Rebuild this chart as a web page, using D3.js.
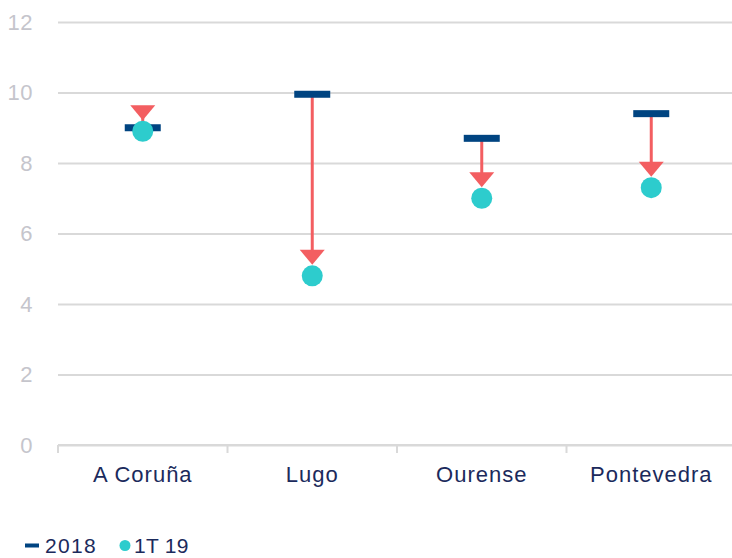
<!DOCTYPE html>
<html>
<head>
<meta charset="utf-8">
<script src="https://cdn.jsdelivr.net/npm/d3@7"></script>
<style>
  body { margin: 0; background: #fff; }
  svg text { font-family: "Liberation Sans", Arial, sans-serif; }
</style>
</head>
<body>
<div id="chart"></div>
<script>
// data
const provinces = ["A Coruña", "Lugo", "Ourense", "Pontevedra"];
const values2018 = [9.0, 9.95, 8.7, 9.4];
const values1T19 = [8.9, 4.8, 7.0, 7.3];
const yTicks = [0, 2, 4, 6, 8, 10, 12];
const legendLabels = ["2018", "1T 19"];

const width = 732, height = 558;
const navy = "#004481", aqua = "#2dcccd", coral = "#f35e61";

const svg = d3.select("#chart").append("svg")
  .attr("width", width)
  .attr("height", height);

const x = d3.scaleBand().domain(provinces).range([58, 736]);
const y = d3.scaleLinear().domain([0, 12]).range([445, 22]);

// gridlines + y labels
const yAxis = svg.append("g")
  .attr("transform", "translate(58,0)")
  .call(d3.axisLeft(y).tickValues(yTicks).tickSize(-(736 - 58)).tickPadding(25));
yAxis.select(".domain").remove();
yAxis.selectAll(".tick line").attr("stroke", "#d9d9d9").attr("stroke-width", 2);
yAxis.selectAll(".tick text")
  .attr("fill", "#c5c5cc")
  .style("font-size", "22px")
  .style("letter-spacing", "0.5px");

// x axis line with category tick marks
const xAxis = svg.append("g")
  .attr("transform", "translate(0,445)");
xAxis.append("line")
  .attr("x1", 58).attr("x2", 736)
  .attr("stroke", "#d9d9d9").attr("stroke-width", 2);
xAxis.selectAll(".sep")
  .data(provinces)
  .enter()
  .append("line")
  .attr("x1", d => x(d)).attr("x2", d => x(d))
  .attr("y1", 0).attr("y2", 8)
  .attr("stroke", "#d9d9d9").attr("stroke-width", 2);
xAxis.selectAll(".lbl")
  .data(provinces)
  .enter()
  .append("text")
  .attr("x", d => x(d) + x.bandwidth() / 2)
  .attr("y", 37)
  .attr("text-anchor", "middle")
  .attr("fill", "#1b2a5c")
  .style("font-size", "22px")
  .style("letter-spacing", "1px")
  .text(d => d);

const rows = provinces.map((p, i) => ({ p, a: values2018[i], b: values1T19[i] }));
const cx = d => x(d.p) + x.bandwidth() / 2;
const tip = d => y(d.b) - 11;

// arrows
svg.append("g").selectAll("line")
  .data(rows)
  .enter()
  .append("line")
  .attr("x1", cx).attr("x2", cx)
  .attr("y1", d => y(d.a)).attr("y2", d => tip(d) - 6)
  .attr("stroke", coral).attr("stroke-width", 3);

svg.append("g").selectAll("path")
  .data(rows)
  .enter()
  .append("path")
  .attr("d", d => `M${cx(d) - 12.5},${tip(d) - 15}L${cx(d) + 12.5},${tip(d) - 15}L${cx(d)},${tip(d)}Z`)
  .attr("fill", coral);

// 2018 dashes
svg.append("g").selectAll("rect")
  .data(rows)
  .enter()
  .append("rect")
  .attr("x", d => cx(d) - 18)
  .attr("y", d => y(d.a) - 3.5)
  .attr("width", 36).attr("height", 7)
  .attr("fill", navy);

// 1T19 dots
svg.append("g").selectAll("circle")
  .data(rows)
  .enter()
  .append("circle")
  .attr("cx", cx)
  .attr("cy", d => y(d.b))
  .attr("r", 10.5)
  .attr("fill", aqua);

// legend
const legend = svg.append("g");
legend.append("rect")
  .attr("x", 25).attr("y", 543.5).attr("width", 14).attr("height", 4)
  .attr("fill", navy);
legend.append("text")
  .attr("x", 45).attr("y", 553)
  .attr("fill", "#1b2a5c")
  .style("font-size", "21px")
  .style("letter-spacing", "1.3px")
  .text(legendLabels[0]);
legend.append("circle")
  .attr("cx", 125).attr("cy", 545.5).attr("r", 5.5)
  .attr("fill", aqua);
legend.append("text")
  .attr("x", 134).attr("y", 553)
  .attr("fill", "#1b2a5c")
  .style("font-size", "21px")
  .style("letter-spacing", "0.3px")
  .text(legendLabels[1]);
</script>
</body>
</html>
